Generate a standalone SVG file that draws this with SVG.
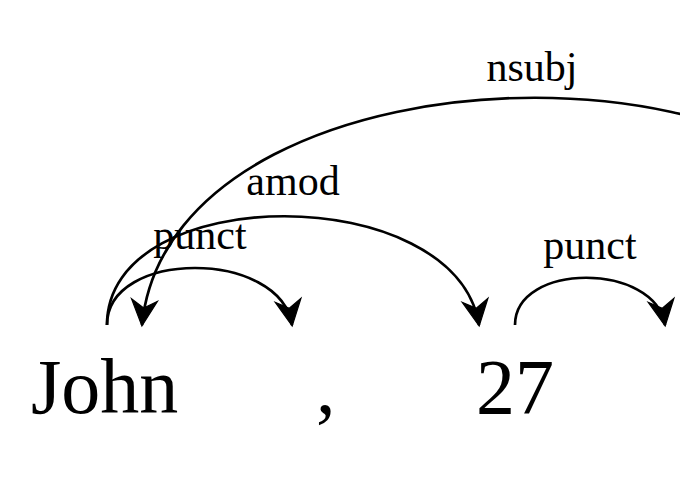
<svg xmlns="http://www.w3.org/2000/svg" width="680" height="500" viewBox="0 0 680 500">
  <style>
    .word { font-family: "Liberation Serif", "Times New Roman", serif; font-size: 78px; fill: #000; }
    .lbl { font-family: "Liberation Serif", "Times New Roman", serif; font-size: 42px; fill: #000; text-anchor: middle; }
    .arc { fill: none; stroke: #000; stroke-width: 2.7; marker-end: url(#arr); }
  </style>
  <defs>
    <marker id="arr" markerUnits="userSpaceOnUse" viewBox="-29 -15 32 30" markerWidth="32" markerHeight="30" refX="0" refY="0" orient="auto" overflow="visible">
      <path d="M1,0 L-25,-13 L-17,0 L-25,13 Z" fill="#000" stroke="#000" stroke-width="1.2" stroke-linejoin="miter"/>
    </marker>
  </defs>
  <rect width="680" height="500" fill="#fff"/>
  <g id="connectors">
    <g id="edge-nsubj">
      <path class="arc" d="M905,325 C905,22 172,22 142,325"/>
      <text class="lbl" x="532" y="81">nsubj</text>
    </g>
    <g id="edge-amod">
      <path class="arc" d="M107,325 C107,180 456,180 479,325"/>
      <text class="lbl" x="293" y="195">amod</text>
    </g>
    <g id="edge-punct1">
      <path class="arc" d="M107,325 C107,249 280,249 292,325"/>
      <text class="lbl" x="200" y="249">punct</text>
    </g>
    <g id="edge-punct2">
      <path class="arc" d="M515,325 C515,262 655,262 665,325"/>
      <text class="lbl" x="590" y="259">punct</text>
    </g>
  </g>
  <g id="node-john"><text class="word" x="31" y="413">John</text></g>
  <g id="node-comma"><text class="word" x="316" y="413">,</text></g>
  <g id="node-27"><text class="word" x="476" y="413">27</text></g>
</svg>
